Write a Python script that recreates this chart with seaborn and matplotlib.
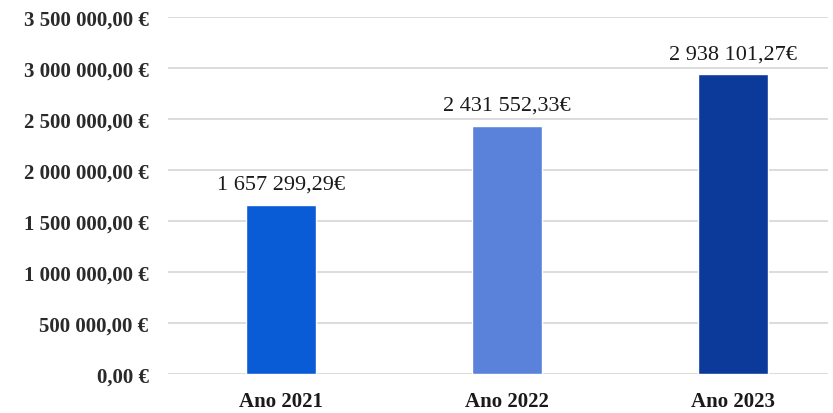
import matplotlib
matplotlib.use("Agg")
import matplotlib.pyplot as plt
import seaborn as sns
import pandas as pd
from matplotlib.ticker import FuncFormatter

categorias = ["Ano 2021", "Ano 2022", "Ano 2023"]
valores = [1657299.29, 2431552.33, 2938101.27]
cores = ["#0A5CD6", "#5A82DA", "#0B3A9A"]
marcas_y = [0, 500000, 1000000, 1500000, 2000000, 2500000, 3000000, 3500000]


def formato_euro(v, pos=None):
    s = f"{v:,.2f}".replace(",", " ").replace(".", ",")
    return s + " €"


sns.set_theme(style="white")
plt.rcParams["font.family"] = ["Liberation Serif", "DejaVu Serif"]

df = pd.DataFrame({"ano": categorias, "valor": valores})

fig = plt.figure(figsize=(8.33, 4.14), dpi=100)
ax = fig.add_axes([168 / 833, 1 - 375 / 414, (828 - 168) / 833, (375 - 18) / 414])

sns.barplot(data=df, x="ano", y="valor", hue="ano", palette=cores,
            saturation=1, width=0.31, legend=False, ax=ax, zorder=3)

ax.set_ylim(0, 3500000)
ax.set_xlim(-0.5, 2.42)
ax.set_yticks(marcas_y)
ax.yaxis.set_major_formatter(FuncFormatter(formato_euro))
ax.grid(axis="y", color="#d6d6d6", linewidth=1.2, zorder=0)
for lado in ["top", "right", "left", "bottom"]:
    ax.spines[lado].set_visible(False)
ax.tick_params(axis="y", length=0, pad=14, labelsize=15, labelcolor="#2a2a2a")
ax.tick_params(axis="x", length=0, pad=12, labelsize=15, labelcolor="#1a1a1a")
for t in ax.get_xticklabels() + ax.get_yticklabels():
    t.set_fontweight("bold")
ax.set_xlabel("")
ax.set_ylabel("")

for i, v in enumerate(valores):
    ax.annotate(formato_euro(v).replace(" €", "€"), (i, v), xytext=(0, 8),
                textcoords="offset points", ha="center", va="bottom",
                fontsize=16, color="#1a1a1a")

fig.savefig("out.png", dpi=100)
